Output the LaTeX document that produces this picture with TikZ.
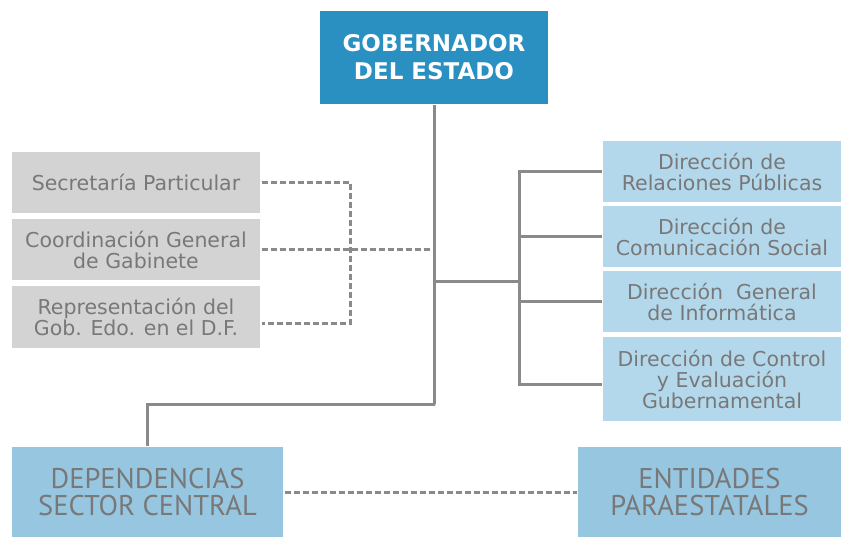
\documentclass[tikz,border=0pt]{standalone}
\usepackage{fontspec}
\setmainfont{DejaVu Sans}
\newfontfamily\narrowfont{PT Sans}
\usetikzlibrary{positioning}
\definecolor{gobblue}{HTML}{2A8FC1}
\definecolor{greybox}{HTML}{D3D3D3}
\definecolor{lightblue}{HTML}{B4D8EB}
\definecolor{midblue}{HTML}{97C6E0}
\definecolor{linegrey}{HTML}{8A8A8A}
\definecolor{textgrey}{HTML}{787878}

\begin{document}
\begin{tikzpicture}[x=1pt, y=-1pt, line width=3pt,
    box/.style={rectangle, inner sep=0pt, align=center, text=textgrey,
        font=\fontsize{20.5}{21}\selectfont},
    staff/.style={box, fill=greybox, minimum width=248pt, minimum height=61pt},
    direc/.style={box, fill=lightblue, minimum width=238pt, minimum height=61pt},
    sector/.style={box, fill=midblue, minimum height=90pt,
        font=\narrowfont\fontsize{28.5}{27}\selectfont},
    link/.style={draw=linegrey},
    dlink/.style={draw=linegrey, dash pattern=on 6pt off 3pt}]
    \useasboundingbox (0,0) rectangle (841,537);
            \node[box, fill=gobblue, text=white, minimum width=228pt, minimum height=93pt,
                font=\bfseries\fontsize{23}{28}\selectfont] (gob) at (434, 57.5) {GOBERNADOR\\DEL ESTADO};
            \node[staff] (s1) at (136, 182.5) {Secretaría Particular};
            \node[staff] (s2) at (136, 249.5) {Coordinación General\\de Gabinete};
            \node[staff, minimum height=62pt] (s3) at (136, 317) {Representación del\\Gob. Edo. en el D.F.};
            \node[direc] (d1) at (722, 171.5) {Dirección de\\Relaciones Públicas};
            \node[direc] (d2) at (722, 236.5) {Dirección de\\Comunicación Social};
            \node[direc] (d3) at (722, 301.5) {Dirección~ General\\de Informática};
            \node[direc, minimum height=84pt] (d4) at (722, 379) {Dirección de Control\\y Evaluación\\Gubernamental};
            \node[sector, minimum width=271pt] (dep) at (147.5, 492) {DEPENDENCIAS\\SECTOR CENTRAL};
            \node[sector, minimum width=263pt] (ent) at (709.5, 492) {ENTIDADES\\PARAESTATALES};
            \coordinate (j1) at (435, 404);
            \coordinate (j2) at (519, 282);
            \coordinate (j3) at (350, 250);
            \path[link]
                (gob.south) |- (j1) -| (dep.north)
                (gob.south |- j2) -- (j2)
                (d1.west) -| (j2) |- ([yshift=-5pt]d4.west)
                (d2.west) -- (d2.west -| j2)
                (d3.west) -- (d3.west -| j2)
            ;
            \path[dlink]
                (s1.east) -| (j3) |- ([yshift=-7pt]s3.east)
                (s2.east) -- (s2.east -| gob.south)
                (dep.east) -- (ent.west)
            ;
        \end{tikzpicture}
\end{document}
